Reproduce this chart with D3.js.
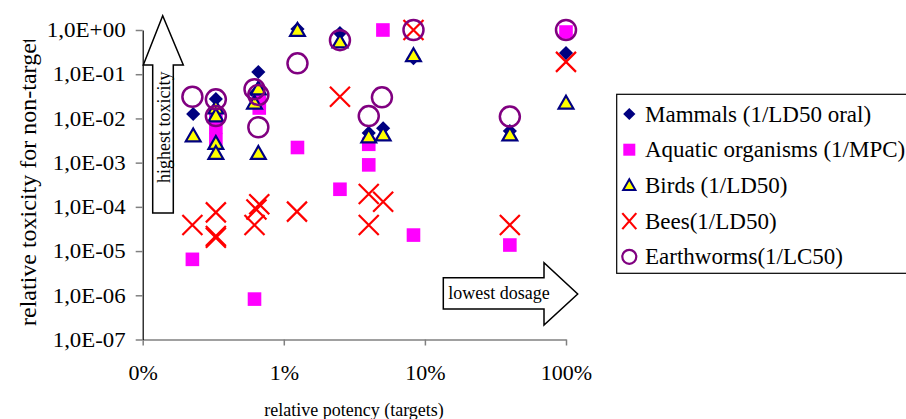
<!DOCTYPE html>
<html>
<head>
<meta charset="utf-8">
<script src="https://cdn.jsdelivr.net/npm/d3@7"></script>
<style>
	body { margin: 0; background: white; }
	text { font-family: "Liberation Serif", "Times New Roman", serif; }
</style>
</head>
<body>
<div id="chart"></div>
<script>
// [potency, toxicity]
var mammals = [[0.00228, 0.0126], [0.0033, 0.0275], [0.0066, 0.112], [0.0063, 0.037], [0.0125, 1.05],
	[0.025, 0.85], [0.04, 0.0047], [0.0506, 0.006], [0.083, 0.23], [0.40, 0.0052], [1.0, 0.30]]
var aquatic = [[0.00225, 6.5e-6], [0.0062, 8.2e-7], [0.0033, 0.0107], [0.0033, 0.0064], [0.0033, 0.0033],
	[0.0067, 0.0234], [0.0067, 0.0172], [0.0125, 0.0022], [0.025, 2.5e-4], [0.04, 0.0026], [0.04, 0.00089],
	[0.0504, 1.0], [0.083, 2.3e-5], [0.40, 1.37e-5], [1.0, 0.9]]
var birds = [[0.00228, 0.004], [0.0033, 0.017], [0.0033, 0.0113], [0.0033, 0.0027], [0.0033, 0.0016],
	[0.0066, 0.046], [0.0062, 0.022], [0.0066, 0.0016], [0.0125, 0.97], [0.025, 0.53], [0.04, 0.0038],
	[0.0506, 0.0042], [0.083, 0.26], [0.40, 0.0042], [1.0, 0.022]]
var bees = [[0.00225, 3.9e-5], [0.0033, 7.5e-5], [0.0033, 2.0e-5], [0.0033, 2.2e-5], [0.0062, 3.9e-5],
	[0.0064, 8.7e-5], [0.0067, 1.15e-4], [0.0124, 7.8e-5], [0.025, 0.031], [0.04, 1.95e-4], [0.04, 3.9e-5],
	[0.0506, 1.3e-4], [0.083, 1.0], [0.40, 3.9e-5], [1.0, 0.19]]
var earthworms = [[0.00225, 0.031], [0.0033, 0.027], [0.0033, 0.0113], [0.0062, 0.046], [0.0066, 0.034],
	[0.0066, 0.0063], [0.0125, 0.176], [0.025, 0.59], [0.0496, 0.030], [0.04, 0.0113], [0.083, 1.0],
	[0.40, 0.011], [1.0, 1.0]]

var seriesNames = ["Mammals (1/LD50 oral)", "Aquatic organisms (1/MPC)", "Birds (1/LD50)", "Bees(1/LD50)", "Earthworms(1/LC50)"]
var xTicks = [0.001, 0.01, 0.1, 1]
var xTickLabels = ["0%", "1%", "10%", "100%"]
var yTicks = [1e-7, 1e-6, 1e-5, 1e-4, 1e-3, 1e-2, 1e-1, 1]
var yTickLabels = ["1,0E-07", "1,0E-06", "1,0E-05", "1,0E-04", "1,0E-03", "1,0E-02", "1,0E-01", "1,0E+00"]

drawChart()

function drawChart() {
	var svg = d3.select("#chart")
		.append("svg")
		.attr("width", 906)
		.attr("height", 419)

	var xScale = d3.scaleLog().domain([0.001, 1]).range([142.7, 566])
	var yScale = d3.scaleLog().domain([1e-7, 1]).range([339.5, 30])

	var xAxis = d3.axisBottom(xScale)
		.tickValues(xTicks)
		.tickFormat((d, i) => xTickLabels[i])
		.tickSizeInner(6)
		.tickSizeOuter(0)
		.tickPadding(19)
	var yAxis = d3.axisLeft(yScale)
		.tickValues(yTicks)
		.tickFormat((d, i) => yTickLabels[i])
		.tickSizeInner(7)
		.tickSizeOuter(0)
		.tickPadding(10)

	var gx = svg.append("g")
		.attr("transform", "translate(0,339.5)")
		.call(xAxis)
	gx.select(".domain").attr("stroke", "#808080").attr("stroke-width", 1.5)
	gx.selectAll(".tick line").attr("stroke", "#808080").attr("stroke-width", 1.5)
	gx.selectAll("text").style("font-size", "22px").attr("fill", "black")

	var gy = svg.append("g")
		.attr("transform", "translate(142.7,0)")
		.call(yAxis)
	gy.select(".domain").attr("stroke", "black").attr("stroke-width", 1.2)
	gy.selectAll(".tick line").attr("stroke", "#808080").attr("stroke-width", 1.5)
	gy.selectAll("text")
		.style("font-size", "21px")
		.attr("fill", "black")
		.attr("textLength", (d, i) => yTickLabels[i].indexOf("+") > 0 ? 79 : 73)
		.attr("lengthAdjust", "spacingAndGlyphs")

	// axis titles
	svg.append("text")
		.attr("x", 354)
		.attr("y", 416)
		.style("text-anchor", "middle")
		.style("font-size", "18px")
		.text("relative potency (targets)")

	svg.append("clipPath")
		.attr("id", "ytitleclip")
		.append("rect")
		.attr("x", 0).attr("y", 40).attr("width", 60).attr("height", 360)
	svg.append("g")
		.attr("clip-path", "url(#ytitleclip)")
		.append("text")
		.attr("transform", "translate(36,326) rotate(-90)")
		.style("font-size", "24px")
		.text("relative toxicity for non-targets")

	// up arrow
	var ua = [[152.7, 213], [152.7, 65], [143.3, 65], [162.7, 15.7], [183.3, 65], [173.3, 65], [173.3, 213]]
	svg.append("path")
		.attr("d", d3.line()(ua) + "Z")
		.attr("fill", "white")
		.attr("stroke", "black")
		.attr("stroke-width", 1.5)
	svg.append("text")
		.attr("transform", "translate(170,183) rotate(-90)")
		.style("font-size", "18px")
		.text("highest toxicity")

	// right arrow
	var ra = [[443.3, 277.7], [544, 277.7], [544, 262.7], [577.7, 294], [544, 325], [544, 309], [443.3, 309]]
	svg.append("path")
		.attr("d", d3.line()(ra) + "Z")
		.attr("fill", "white")
		.attr("stroke", "black")
		.attr("stroke-width", 1.5)
	svg.append("text")
		.attr("x", 448.3)
		.attr("y", 299)
		.style("font-size", "18px")
		.text("lowest dosage")

	var diamond = d3.symbol().type(d3.symbolSquare).size(100)
	var tri = d3.symbol().type(d3.symbolTriangle).size(95)

	function drawMammal(g) {
		g.append("path").attr("d", diamond()).attr("transform", "rotate(45)")
			.attr("fill", "#000080")
	}
	function drawAquatic(g) {
		g.append("rect").attr("x", -6.8).attr("y", -6.8).attr("width", 13.6).attr("height", 13.6)
			.attr("fill", "#ff00ff")
	}
	function drawBird(g) {
		g.append("path").attr("d", tri()).attr("transform", "translate(0,1)")
			.attr("fill", "#ffff00").attr("stroke", "#000080").attr("stroke-width", 2.2)
	}
	function drawBee(g) {
		g.append("path").attr("d", "M-10,-10L10,10M-10,10L10,-10")
			.attr("stroke", "#ff0000").attr("stroke-width", 2.2).attr("fill", "none")
	}
	function drawWorm(g) {
		g.append("circle").attr("r", 10)
			.attr("fill", "none").attr("stroke", "#800080").attr("stroke-width", 2.5)
	}

	var series = [mammals, aquatic, birds, bees, earthworms]
	var drawers = [drawMammal, drawAquatic, drawBird, drawBee, drawWorm]

	series.forEach(function(data, k) {
		svg.append("g")
			.selectAll("g")
			.data(data)
			.join("g")
			.attr("transform", d => `translate(${xScale(d[0])},${yScale(d[1])})`)
			.each(function() { drawers[k](d3.select(this)) })
	})

	// legend
	var legend = svg.append("g")
	legend.append("rect")
		.attr("x", 616.7).attr("y", 94.3)
		.attr("width", 300).attr("height", 179)
		.attr("fill", "white").attr("stroke", "black").attr("stroke-width", 1.2)
	seriesNames.forEach(function(name, i) {
		var row = legend.append("g").attr("transform", `translate(629.3,${114 + i * 35.7})`)
		var m = row.append("g")
		if (i == 4) {
			m.append("circle").attr("r", 7).attr("fill", "none").attr("stroke", "#800080").attr("stroke-width", 2.2)
		} else if (i == 3) {
			m.append("path").attr("d", "M-7,-8L7,8M-7,8L7,-8").attr("stroke", "#ff0000").attr("stroke-width", 2.2)
		} else if (i == 2) {
			m.append("path").attr("d", d3.symbol().type(d3.symbolTriangle).size(65)()).attr("transform", "translate(0,1)")
				.attr("fill", "#ffff00").attr("stroke", "#000080").attr("stroke-width", 2)
		} else if (i == 1) {
			m.append("rect").attr("x", -6).attr("y", -6).attr("width", 12).attr("height", 12).attr("fill", "#ff00ff")
		} else {
			m.append("path").attr("d", d3.symbol().type(d3.symbolSquare).size(75)()).attr("transform", "rotate(45)")
				.attr("fill", "#000080")
		}
		row.append("text")
			.attr("x", 15.7)
			.attr("y", 7.5)
			.style("font-size", "23px")
			.text(name)
	})
}
</script>
</body>
</html>
